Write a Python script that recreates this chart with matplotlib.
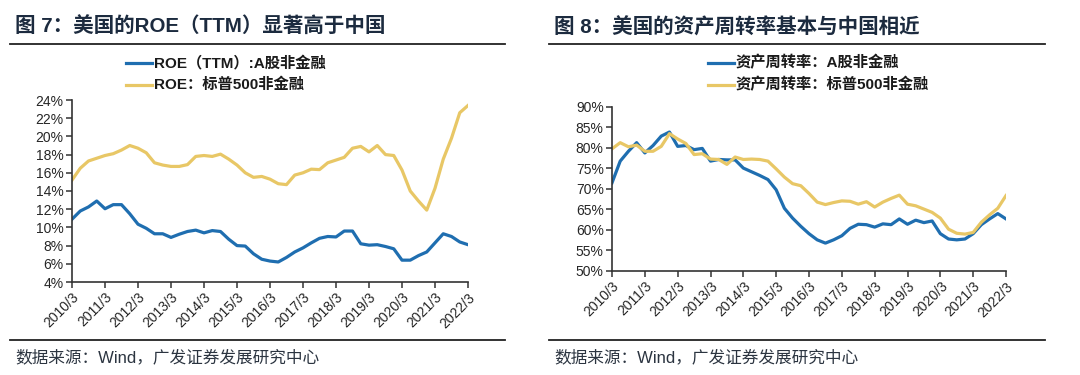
import matplotlib
matplotlib.use("Agg")
import matplotlib.pyplot as plt
import numpy as np
from matplotlib.ticker import FuncFormatter, MultipleLocator

plt.rcParams['font.family'] = ['Liberation Sans', 'Noto Sans CJK SC', 'DejaVu Sans']

years = [f"{y}/3" for y in range(2010, 2023)]

roe_a = [10.9, 11.8, 12.25, 12.9, 12.05, 12.5, 12.5, 11.5, 10.35, 9.9,
         9.3, 9.3, 8.9, 9.25, 9.55, 9.7, 9.4, 9.65, 9.55, 8.7,
         8.0, 7.95, 7.1, 6.5, 6.3, 6.2, 6.7, 7.3, 7.75, 8.3,
         8.8, 9.0, 8.95, 9.6, 9.6, 8.2, 8.05, 8.1, 7.9, 7.65,
         6.4, 6.4, 6.9, 7.3, 8.3, 9.3, 9.0, 8.4, 8.1]
roe_sp = [15.2, 16.5, 17.3, 17.6, 17.9, 18.1, 18.5, 19.0, 18.7, 18.2,
          17.1, 16.85, 16.7, 16.7, 16.9, 17.8, 17.9, 17.8, 18.05, 17.5,
          16.85, 16.0, 15.5, 15.6, 15.3, 14.8, 14.7, 15.75, 16.0, 16.4,
          16.35, 17.1, 17.4, 17.7, 18.7, 18.9, 18.3, 19.0, 18.0, 17.9,
          16.3, 14.0, 12.9, 11.9, 14.3, 17.5, 19.8, 22.6, 23.4]

at_a = [71.5, 76.8, 79.2, 81.3, 78.8, 80.6, 82.9, 83.9, 80.4, 80.6,
        79.6, 79.9, 76.8, 77.2, 77.1, 77.1, 75.1, 74.2, 73.3, 72.3,
        69.8, 65.3, 62.9, 60.9, 59.1, 57.6, 56.8, 57.6, 58.6, 60.4,
        61.4, 61.3, 60.7, 61.5, 61.3, 62.7, 61.4, 62.4, 61.8, 62.2,
        59.1, 57.8, 57.6, 57.8, 59.1, 61.3, 62.7, 64.0, 62.7]
at_sp = [79.8, 81.3, 80.3, 80.7, 79.2, 79.2, 80.4, 83.5, 82.2, 81.1,
         78.4, 78.6, 77.3, 77.2, 76.0, 77.8, 77.2, 77.3, 77.2, 76.8,
         74.9, 72.9, 71.3, 70.8, 68.9, 66.8, 66.2, 66.7, 67.1, 67.0,
         66.3, 66.9, 65.6, 66.8, 67.7, 68.5, 66.3, 65.9, 65.1, 64.3,
         62.9, 60.2, 59.2, 59.0, 59.4, 61.9, 63.7, 65.3, 68.4]

titles = ["图 7：美国的ROE（TTM）显著高于中国", "图 8：美国的资产周转率基本与中国相近"]
legend_left = ["ROE（TTM）:A股非金融", "ROE：标普500非金融"]
legend_right = ["资产周转率：A股非金融", "资产周转率：标普500非金融"]
source = "数据来源：Wind，广发证券发展研究中心"

BLUE = "#1f6eb0"
GOLD = "#e8c766"
NAVY = "#1c2b3f"
TXT = "#262626"

fig = plt.figure(figsize=(10.8, 3.75), dpi=100)
W, H = 1080, 375

def fx(px):
    return px / W

def fy(py):
    return 1 - py / H

x = np.arange(len(roe_a))

def setup(ax, ylim, step, fmt):
    ax.set_xlim(0, len(x) - 1)
    ax.set_ylim(*ylim)
    ax.yaxis.set_major_locator(MultipleLocator(step))
    ax.yaxis.set_major_formatter(FuncFormatter(fmt))
    ax.set_xticks(np.arange(0, len(x), 4))
    ax.set_xticklabels(years, rotation=45, ha='right', rotation_mode='anchor')
    for s in ['top', 'right']:
        ax.spines[s].set_visible(False)
    for s in ['left', 'bottom']:
        ax.spines[s].set_color('#333333')
        ax.spines[s].set_linewidth(1.2)
    ax.tick_params(axis='both', direction='out', length=4, width=1.1, color='#333333',
                   labelsize=10, labelcolor=TXT, pad=2)
    ax.patch.set_alpha(0)

# Left panel
axL = fig.add_axes([fx(72), fy(282), fx(468 - 72), (282 - 100) / H])
axL.plot(x, roe_a, color=BLUE, lw=2.3)
axL.plot(x, roe_sp, color=GOLD, lw=2.3)
setup(axL, (4, 24), 2, lambda v, p: f"{v:.0f}%")

# Right panel
axR = fig.add_axes([fx(612), fy(271), fx(1006 - 612), (271 - 107) / H])
axR.plot(x, at_a, color=BLUE, lw=2.3)
axR.plot(x, at_sp, color=GOLD, lw=2.3)
setup(axR, (50, 90), 5, lambda v, p: f"{v:.0f}%")

# Titles, rules, legends, sources
for (x0, x1), title, leg, lx in [((10, 505), titles[0], legend_left, 126),
                                 ((549, 1045), titles[1], legend_right, 708)]:
    fig.text(fx(x0 + 5), fy(27), title, fontsize=14.8, fontweight='bold', color=NAVY,
             va='center', ha='left')
    fig.add_artist(plt.Line2D([fx(x0), fx(x1)], [fy(44), fy(44)], color='#222222', lw=1.3))
    fig.add_artist(plt.Line2D([fx(x0), fx(x1)], [fy(340), fy(340)], color='#222222', lw=1.3))
    fig.text(fx(x0 + 5), fy(357), source, fontsize=12, color='#2b3440', va='center', ha='left')
    for i, (lab, col) in enumerate(zip(leg, [BLUE, GOLD])):
        yy = fy(63 + 22 * i)
        fig.add_artist(plt.Line2D([fx(lx), fx(lx + 26)], [yy, yy], color=col, lw=2.3))
        fig.text(fx(lx + 28), yy, lab, fontsize=11, fontweight='bold', color='#1a1a1a',
                 va='center', ha='left')

fig.savefig("out.png", dpi=100)
